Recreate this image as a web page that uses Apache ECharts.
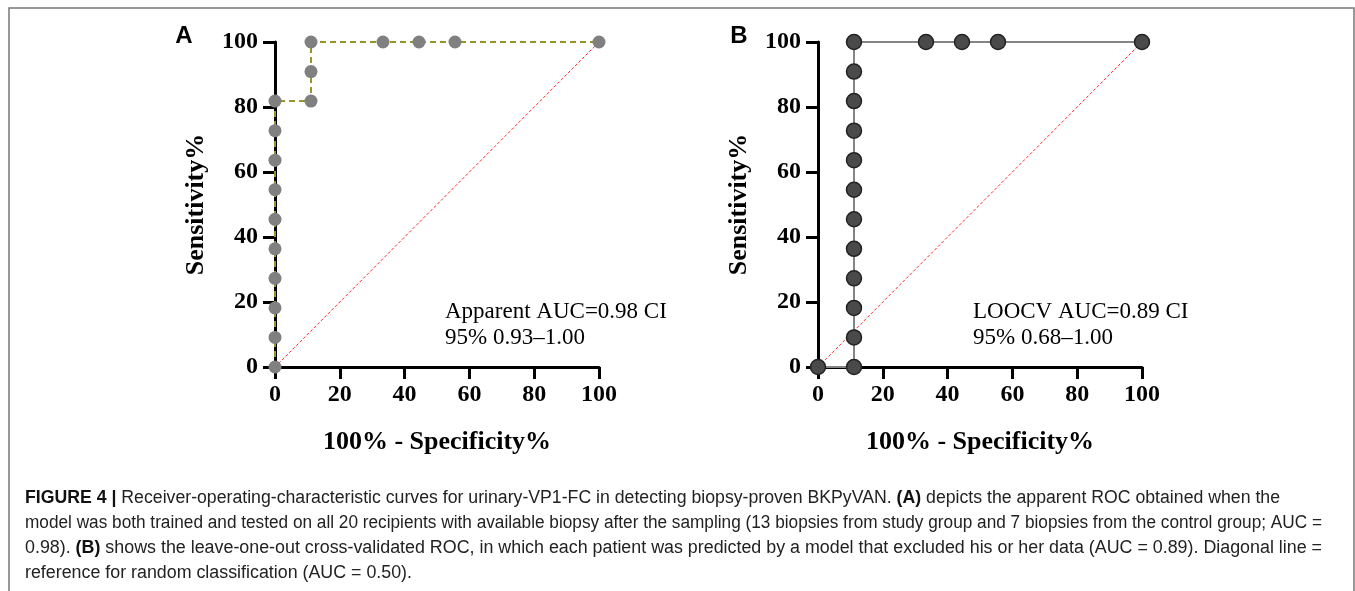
<!DOCTYPE html>
<html>
<head>
<meta charset="utf-8">
<script src="https://cdn.jsdelivr.net/npm/echarts@6/dist/echarts.min.js"></script>
<style>
html,body{margin:0;padding:0;background:#fff;}
#c{width:1355px;height:591px;}
</style>
</head>
<body>
<div id="c"></div>
<script>
// ---- data ----
const ticks = [0, 20, 40, 60, 80, 100];
const fprA  = [0, 0, 0, 0, 0, 0, 0, 0, 0, 0, 11.11, 11.11, 11.11, 33.33, 44.44, 55.56, 100];
const sensA = [0, 9.09, 18.18, 27.27, 36.36, 45.45, 54.55, 63.64, 72.73, 81.82, 81.82, 90.91, 100, 100, 100, 100, 100];
const fprB  = [0, 11.11, 11.11, 11.11, 11.11, 11.11, 11.11, 11.11, 11.11, 11.11, 11.11, 11.11, 11.11, 33.33, 44.44, 55.56, 100];
const sensB = [0, 0, 9.09, 18.18, 27.27, 36.36, 45.45, 54.55, 63.64, 72.73, 81.82, 90.91, 100, 100, 100, 100, 100];
const diagX = [0, 100];
const diagY = [0, 100];
const xTitle = '100% - Specificity%';
const yTitle = 'Sensitivity%';
const annoA = ['Apparent AUC=0.98 CI', '95% 0.93\u20131.00'];
const annoB = ['LOOCV AUC=0.89 CI', '95% 0.68\u20131.00'];
const captionLines = [
  [['b','FIGURE 4 | '],['n','Receiver-operating-characteristic curves for urinary-VP1-FC in detecting biopsy-proven BKPyVAN. '],['b','(A)'],['n',' depicts the apparent ROC obtained when the']],
  [['n','model was both trained and tested on all 20 recipients with available biopsy after the sampling (13 biopsies from study group and 7 biopsies from the control group; AUC =']],
  [['n','0.98). '],['b','(B)'],['n',' shows the leave-one-out cross-validated ROC, in which each patient was predicted by a model that excluded his or her data (AUC = 0.89). Diagonal line =']],
  [['n','reference for random classification (AUC = 0.50).']]
];

const zip = (a, b) => a.map((v, i) => [v, b[i]]);

const serif = '"Liberation Serif","Times New Roman",serif';
const sans = '"Liberation Sans",Arial,sans-serif';

function mkAxes(idx, isX) {
  return {
    type: 'value', gridIndex: idx, min: 0, max: 100, interval: 20,
    name: isX ? xTitle : yTitle,
    nameLocation: 'middle',
    nameGap: isX ? 62 : 66,
    nameRotate: isX ? 0 : 90,
    nameTextStyle: { fontFamily: serif, fontWeight: 'bold', fontSize: 26, color: '#000' },
    axisLine: { show: true, onZero: false, lineStyle: { color: '#000', width: 3 } },
    axisTick: { show: true, length: 12, lineStyle: { color: '#000', width: 3 } },
    splitLine: { show: false },
    axisLabel: {
      fontFamily: serif, fontWeight: 'bold', fontSize: 24, color: '#000',
      margin: isX ? 16 : 17,
      formatter: v => ticks.includes(v) ? String(v) : ''
    }
  };
}

const chart = echarts.init(document.getElementById('c'), null, { renderer: 'canvas' });

// caption layout helpers (measure text widths to fit line lengths)
const cv = document.createElement('canvas').getContext('2d');
const capSize = 18;
function segWidth(seg) {
  cv.font = (seg[0] === 'b' ? 'bold ' : '') + capSize + 'px ' + sans;
  return cv.measureText(seg[1]).width;
}
const capTargets = [1255, 1297, 1297, 387];
const capY = [498, 523, 548, 573];
const captionGraphics = captionLines.map((line, i) => {
  const w = line.reduce((s, seg) => s + segWidth(seg), 0);
  const sx = capTargets[i] / w;
  return {
    type: 'text', x: 25, y: capY[i], scaleX: sx, scaleY: 1,
    style: {
      text: line.map(seg => '{' + seg[0] + '|' + seg[1] + '}').join(''),
      rich: {
        b: { fontFamily: sans, fontWeight: 'bold', fontSize: capSize, fill: '#111' },
        n: { fontFamily: sans, fontWeight: 'normal', fontSize: capSize, fill: '#222' }
      },
      verticalAlign: 'middle', align: 'left'
    }
  };
});

function annoText(x, lines) {
  return {
    type: 'text', x: x, y: 299,
    style: { text: lines.join('\n'), fontFamily: serif, fontSize: 23, lineHeight: 26, fill: '#000', align: 'left', verticalAlign: 'top' },
    z: 10
  };
}

const option = {
  animation: false,
  backgroundColor: '#fff',
  grid: [
    { left: 275, top: 42, width: 324, height: 325 },
    { left: 818, top: 42, width: 324, height: 325 }
  ],
  xAxis: [mkAxes(0, true), mkAxes(1, true)],
  yAxis: [mkAxes(0, false), mkAxes(1, false)],
  series: [
    {
      type: 'line', xAxisIndex: 0, yAxisIndex: 0, data: zip(diagX, diagY),
      symbol: 'none', lineStyle: { color: '#ff2a2a', width: 1, type: [3, 2] }, z: 3
    },
    {
      type: 'line', xAxisIndex: 0, yAxisIndex: 0, data: zip(fprA, sensA),
      symbol: 'circle', symbolSize: 13, showAllSymbol: true,
      itemStyle: { color: '#808080', borderWidth: 0 },
      lineStyle: { color: '#969628', width: 2, type: [6, 4] }, z: 5
    },
    {
      type: 'line', xAxisIndex: 1, yAxisIndex: 1, data: zip(diagX, diagY),
      symbol: 'none', lineStyle: { color: '#ff2a2a', width: 1, type: [3, 2] }, z: 3
    },
    {
      type: 'line', xAxisIndex: 1, yAxisIndex: 1, data: zip(fprB, sensB),
      symbol: 'circle', symbolSize: 15, showAllSymbol: true,
      itemStyle: { color: '#4a4a4a', borderColor: '#222', borderWidth: 1.5 },
      lineStyle: { color: '#858585', width: 2 }, z: 5
    }
  ],
  graphic: [
    { type: 'rect', shape: { x: 9, y: 8, width: 1345, height: 600 }, style: { fill: 'none', stroke: '#777', lineWidth: 1.5 }, silent: true },
    { type: 'text', x: 184, y: 36, style: { text: 'A', fontFamily: sans, fontWeight: 'bold', fontSize: 24, fill: '#000', align: 'center', verticalAlign: 'middle' } },
    { type: 'text', x: 739, y: 36, style: { text: 'B', fontFamily: sans, fontWeight: 'bold', fontSize: 24, fill: '#000', align: 'center', verticalAlign: 'middle' } },
    annoText(445, annoA),
    annoText(973, annoB)
  ].concat(captionGraphics)
};
chart.setOption(option);
</script>
</body>
</html>
